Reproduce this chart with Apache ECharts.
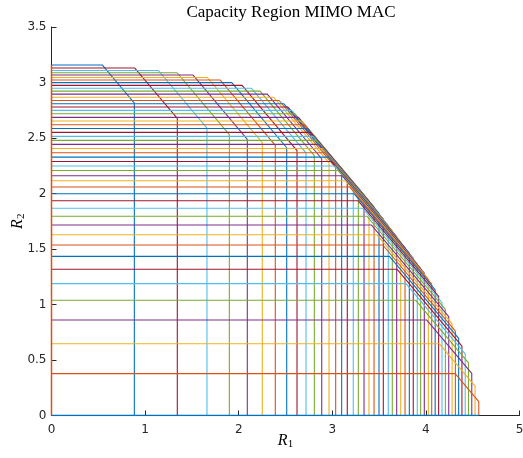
<!DOCTYPE html>
<html>
<head>
<meta charset="utf-8">
<script src="https://cdn.jsdelivr.net/npm/echarts@6/dist/echarts.min.js"></script>
<style>
  html, body { margin: 0; padding: 0; background: #fff; }
  #chart { width: 523px; height: 458px; }
</style>
</head>
<body>
<div id="chart"></div>
<script>
// one pentagon per power split, sorted by growing R1
const r1Max = [0.885, 1.344, 1.661, 1.900, 2.092, 2.252, 2.391, 2.513, 2.623, 2.719,
  2.808, 2.887, 2.965, 3.036, 3.100, 3.160, 3.224, 3.278, 3.339, 3.392,
  3.446, 3.499, 3.545, 3.598, 3.641, 3.688, 3.731, 3.777, 3.823, 3.865,
  3.908, 3.944, 3.983, 4.026, 4.062, 4.099, 4.136, 4.172, 4.208, 4.244,
  4.280, 4.315, 4.350, 4.385, 4.420, 4.455, 4.490, 4.525, 4.565];
const r2Max = [3.158, 3.130, 3.108, 3.088, 3.067, 3.045, 3.022, 2.999, 2.974, 2.948,
  2.922, 2.895, 2.867, 2.838, 2.809, 2.779, 2.749, 2.718, 2.686, 2.653,
  2.620, 2.586, 2.551, 2.515, 2.479, 2.443, 2.405, 2.367, 2.328, 2.288,
  2.248, 2.207, 2.160, 2.115, 2.058, 1.998, 1.935, 1.867, 1.795, 1.716,
  1.629, 1.536, 1.434, 1.317, 1.188, 1.038, 0.860, 0.646, 0.377];
const sumRate = [3.700, 4.020, 4.250, 4.430, 4.580, 4.710, 4.825, 4.925, 5.010, 5.085,
  5.150, 5.200, 5.240, 5.270, 5.290, 5.305, 5.315, 5.320, 5.325, 5.325,
  5.325, 5.320, 5.315, 5.310, 5.305, 5.300, 5.295, 5.290, 5.285, 5.280,
  5.275, 5.270, 5.265, 5.255, 5.245, 5.230, 5.210, 5.190, 5.165, 5.135,
  5.105, 5.075, 5.045, 5.010, 4.975, 4.930, 4.870, 4.790, 4.690];

const xTicks = [0, 1, 2, 3, 4, 5];
const yTicks = [0, 0.5, 1, 1.5, 2, 2.5, 3, 3.5];

// matlab colours, walked backwards
const palette = ['#0072BD', '#A2142F', '#4DBEEE', '#77AC30', '#7E2F8E', '#EDB120', '#D95319'];

const series = [];
r1Max.forEach(function (r1, i) {
  const r2 = r2Max[i];
  const s = sumRate[i];
  series.push({
    type: 'line',
    data: [[0, r2], [s - r2, r2], [r1, s - r1], [r1, 0]],
    showSymbol: false,
    lineStyle: { width: 1.1 },
    silent: true,
  });
});
// lines along the axes
series.push({
  type: 'line',
  data: [[0, 0], [Math.max(...r1Max), 0]],
  showSymbol: false,
  lineStyle: { width: 1.5, color: '#0072BD' },
  silent: true,
});
series.push({
  type: 'line',
  data: [[0, 0], [0, Math.max(...r2Max)]],
  showSymbol: false,
  lineStyle: { width: 1.5, color: '#D95319' },
  silent: true,
});

const axisText = { color: '#262626', fontSize: 12, fontFamily: 'DejaVu Sans' };
const nameRich = {
  i: { fontFamily: 'Liberation Serif', fontStyle: 'italic', fontSize: 16, color: '#000' },
  s: { fontFamily: 'Liberation Serif', fontSize: 11, color: '#000', padding: [6, 0, 0, 0] },
};

const option = {
  animation: false,
  color: palette,
  title: {
    text: 'Capacity Region MIMO MAC',
    left: 286,
    top: -1,
    textAlign: 'center',
    textStyle: { fontFamily: 'Liberation Serif', fontWeight: 'normal', fontSize: 17, color: '#000' },
  },
  grid: { left: 51.5, right: 3.5, top: 27, bottom: 42.5, containLabel: false, outerBoundsMode: 'none' },
  xAxis: {
    type: 'value',
    min: xTicks[0],
    max: xTicks[xTicks.length - 1],
    interval: 1,
    name: '{i|R}{s|1}',
    nameLocation: 'middle',
    nameGap: 17,
    nameMoveOverlap: false,
    nameTextStyle: { rich: nameRich },
    axisLine: { lineStyle: { color: '#262626', width: 1 } },
    axisTick: { inside: true, length: 5, lineStyle: { color: '#262626' } },
    axisLabel: Object.assign({ margin: 8 }, axisText),
    splitLine: { show: false },
  },
  yAxis: {
    type: 'value',
    min: yTicks[0],
    max: yTicks[yTicks.length - 1],
    interval: 0.5,
    name: '{i|R}{s|2}',
    nameLocation: 'middle',
    nameGap: 25,
    nameRotate: 90,
    nameMoveOverlap: false,
    nameTextStyle: { rich: nameRich },
    axisLine: { show: true, lineStyle: { color: '#262626', width: 1 } },
    axisTick: { show: true, inside: true, length: 5, lineStyle: { color: '#262626' } },
    axisLabel: Object.assign({ margin: 5 }, axisText),
    splitLine: { show: false },
  },
  series: series,
};

const myChart = echarts.init(document.getElementById('chart'));
myChart.setOption(option);
window.addEventListener('resize', function () {
  myChart.resize();
});
</script>
</body>
</html>
